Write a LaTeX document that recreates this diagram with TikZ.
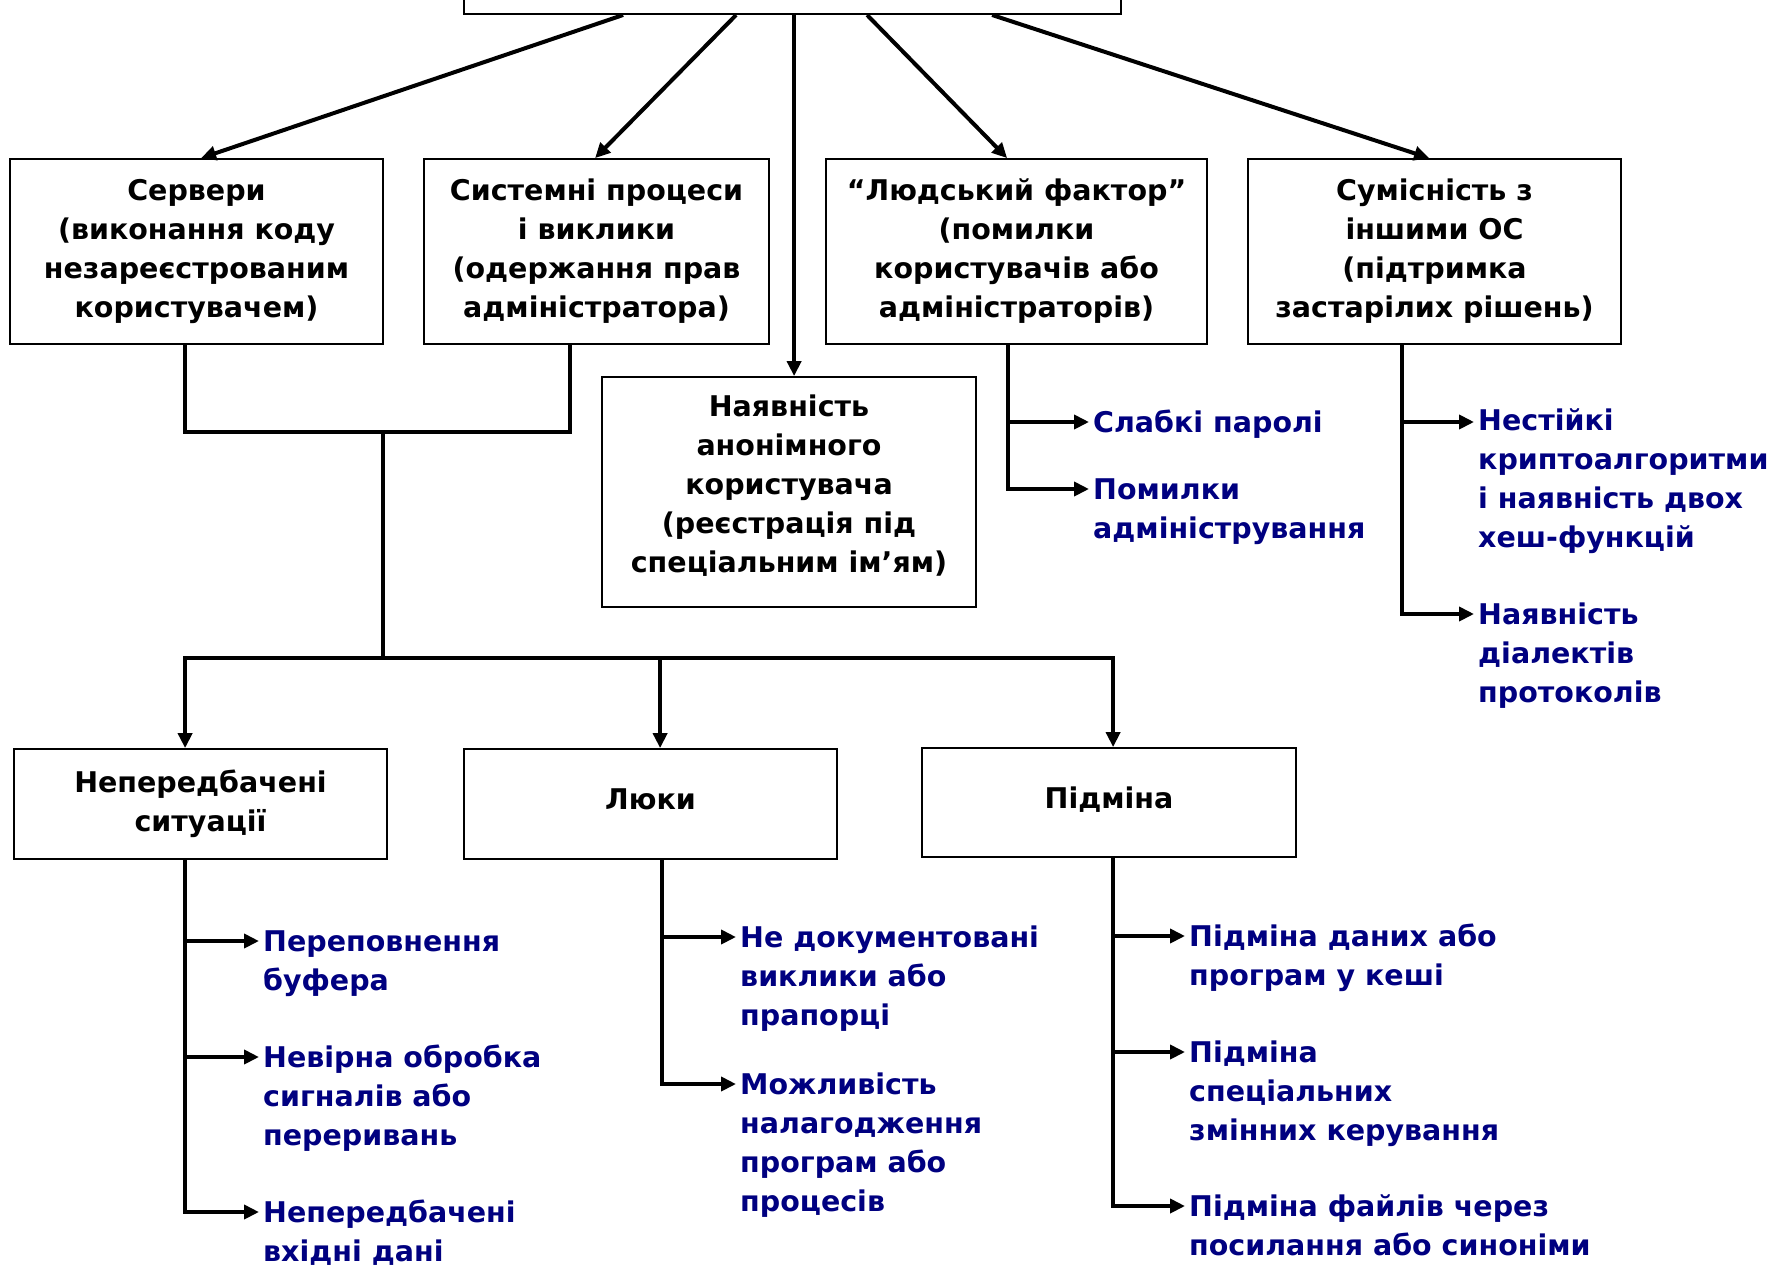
\documentclass[tikz,border=0pt]{standalone}
\usepackage{fontspec}
\setmainfont{DejaVu Sans}
\usetikzlibrary{arrows.meta,calc}
\definecolor{itemblue}{RGB}{0,0,128}
\newcommand\itemlines[1]{\begin{tabular}[t]{@{}l@{}}#1\end{tabular}}
\begin{document}
\begin{tikzpicture}[x=1pt,y=-1pt,
  box/.style={draw,line width=1.8pt,align=center,inner sep=0pt,
    font=\bfseries\fontsize{28.5}{39}\selectfont},
  item/.style={inner xsep=4pt,inner ysep=0pt,anchor=base west,
    text=itemblue,font=\bfseries\fontsize{28.5}{39}\selectfont},
  conn/.style={line width=4pt},
  arr/.style={conn,-{Triangle[length=15pt,width=14pt]}},
]
\useasboundingbox (0,0) rectangle (1779,1266);
% boxes
\node[box,minimum width=657pt,minimum height=60pt,anchor=south] (top) at (792.5,15) {};
\node[box,minimum width=373pt,minimum height=185pt] (srv) at (196.5,251.5)
  {Сервери\\(виконання коду\\незареєстрованим\\користувачем)};
\node[box,minimum width=345pt,minimum height=185pt] (sys) at (596.5,251.5)
  {Системні процеси\\і виклики\\(одержання прав\\адміністратора)};
\node[box,minimum width=381pt,minimum height=185pt] (hum) at (1016.5,251.5)
  {“Людський фактор”\\(помилки\\користувачів або\\адміністраторів)};
\node[box,minimum width=373pt,minimum height=185pt] (cmp) at (1434.5,251.5)
  {Сумісність з\\іншими ОС\\(підтримка\\застарілих рішень)};
\node[box,minimum width=374pt,minimum height=230pt] (anon) at (789,492)
  {Наявність\\анонімного\\користувача\\(реєстрація під\\спеціальним ім’ям\rule[-16pt]{0pt}{1pt})};
\node[box,minimum width=373pt,minimum height=110pt] (nep) at (200.5,804)
  {Непередбачені\\ситуації};
\node[box,minimum width=373pt,minimum height=110pt,text depth=10pt] (luk) at (650.5,804)
  {Люки};
\node[box,minimum width=374pt,minimum height=109pt,text depth=10pt] (pid) at (1109,802.5)
  {Підміна};
% arrows from top
\draw[arr] ([xshift=160pt]top.south west) -- ([xshift=192pt]srv.north west);
\draw[arr] ([xshift=273pt]top.south west) -- ([xshift=172pt]sys.north west);
\draw[arr] ([xshift=331pt]top.south west) -- ([xshift=193pt]anon.north west);
\draw[arr] ([xshift=404pt]top.south west) -- ([xshift=182pt]hum.north west);
\draw[arr] ([xshift=529pt]top.south west) -- ([xshift=182pt]cmp.north west);
% junction
\coordinate (j1) at (383,432);
\coordinate (j2) at (383,658);
\draw[conn] ([xshift=176pt]srv.south west) |- (j1) -| ([xshift=147pt]sys.south west);
\draw[conn] (j1) -- (j2);
\draw[arr] (j2) -| ([xshift=172pt]nep.north west);
\draw[arr] (j2) -| ([xshift=197pt]luk.north west);
\draw[arr] (j2) -| ([xshift=192pt]pid.north west);
% items
\node[item] (h1) at (1089,432) {\itemlines{Слабкі паролі}};
\node[item] (h2) at (1089,499) {\itemlines{Помилки\\адміністрування}};
\node[item] (c1) at (1474,430) {\itemlines{Нестійкі\\криптоалгоритми\\і наявність двох\\хеш-функцій}};
\node[item] (c2) at (1474,624) {\itemlines{Наявність\\діалектів\\протоколів}};
\node[item] (n1) at (259,951) {\itemlines{Переповнення\\буфера}};
\node[item] (n2) at (259,1067) {\itemlines{Невірна обробка\\сигналів або\\переривань}};
\node[item] (n3) at (259,1222) {\itemlines{Непередбачені\\вхідні дані}};
\node[item] (l1) at (736,947) {\itemlines{Не документовані\\виклики або\\прапорці}};
\node[item] (l2) at (736,1094) {\itemlines{Можливість\\налагодження\\програм або\\процесів}};
\node[item] (p1) at (1185,946) {\itemlines{Підміна даних або\\програм у кеші}};
\node[item] (p2) at (1185,1062) {\itemlines{Підміна\\спеціальних\\змінних керування}};
\node[item] (p3) at (1185,1216) {\itemlines{Підміна файлів через\\посилання або синоніми}};
% item connectors
\draw[arr] ([xshift=183pt]hum.south west) |- ([yshift=10pt]h1.base west);
\draw[arr] ([xshift=183pt]hum.south west) |- ([yshift=10pt]h2.base west);
\draw[arr] ([xshift=155pt]cmp.south west) |- ([yshift=8pt]c1.base west);
\draw[arr] ([xshift=155pt]cmp.south west) |- ([yshift=10pt]c2.base west);
\foreach \n in {n1,n2,n3} \draw[arr] ([xshift=172pt]nep.south west) |- ([yshift=10pt]\n.base west);
\foreach \n in {l1,l2} \draw[arr] ([xshift=199pt]luk.south west) |- ([yshift=10pt]\n.base west);
\foreach \n in {p1,p2,p3} \draw[arr] ([xshift=192pt]pid.south west) |- ([yshift=10pt]\n.base west);
\end{tikzpicture}
\end{document}
